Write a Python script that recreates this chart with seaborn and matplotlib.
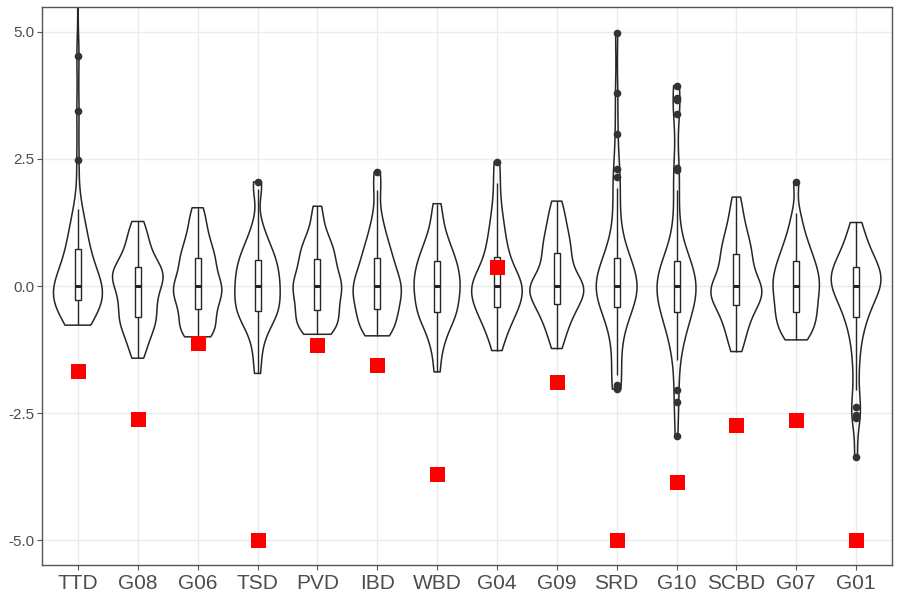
import matplotlib
matplotlib.use("Agg")
import matplotlib.pyplot as plt
import numpy as np
import pandas as pd
import seaborn as sns

groups = ["TTD", "G08", "G06", "TSD", "PVD", "IBD", "WBD",
          "G04", "G09", "SRD", "G10", "SCBD", "G07", "G01"]

ttd_vals = [-0.77, -0.72, -0.66, -0.61, -0.56, -0.51, -0.46, -0.42, -0.38, -0.34, -0.31,
            -0.28, -0.25, -0.22, -0.19, -0.16, -0.13, -0.10, -0.08, -0.05, -0.03, -0.01,
            0.00, 0.04, 0.09, 0.14, 0.20, 0.27, 0.34, 0.42, 0.50, 0.58, 0.65,
            0.72, 0.80, 0.90, 1.00, 1.12, 1.25, 1.38, 1.51, 2.47, 3.45, 4.53, 6.20]
g08_vals = [-1.42, -1.25, -1.10, -0.98, -0.88, -0.80, -0.72, -0.66, -0.60, -0.52, -0.44,
            -0.36, -0.29, -0.22, -0.15, -0.07, 0.00, 0.05, 0.10, 0.15, 0.20, 0.25,
            0.29, 0.33, 0.38, 0.45, 0.53, 0.62, 0.72, 0.84, 0.96, 1.10, 1.27]
g06_vals = [-1.00, -0.97, -0.92, -0.86, -0.78, -0.70, -0.62, -0.53, -0.45, -0.38, -0.31,
            -0.25, -0.19, -0.13, -0.08, -0.04, 0.00, 0.05, 0.11, 0.18, 0.26, 0.35,
            0.43, 0.50, 0.56, 0.63, 0.72, 0.82, 0.93, 1.05, 1.20, 1.38, 1.54]
tsd_vals = [-1.72, -1.35, -1.05, -0.88, -0.76, -0.66, -0.59, -0.54, -0.49, -0.43, -0.37,
            -0.31, -0.25, -0.18, -0.11, -0.05, 0.00, 0.06, 0.12, 0.18, 0.25, 0.32,
            0.38, 0.45, 0.51, 0.58, 0.66, 0.75, 0.86, 1.00, 1.22, 1.90, 2.05]
pvd_vals = [-0.95, -0.91, -0.86, -0.80, -0.73, -0.66, -0.59, -0.53, -0.47, -0.41, -0.34,
            -0.27, -0.21, -0.14, -0.08, -0.03, 0.00, 0.05, 0.11, 0.17, 0.24, 0.31,
            0.38, 0.46, 0.53, 0.61, 0.69, 0.77, 0.85, 0.95, 1.10, 1.32, 1.57]
ibd_vals = [-0.98, -0.94, -0.88, -0.81, -0.74, -0.66, -0.58, -0.51, -0.45, -0.39, -0.32,
            -0.26, -0.20, -0.14, -0.09, -0.04, 0.00, 0.05, 0.11, 0.17, 0.24, 0.31,
            0.39, 0.47, 0.55, 0.64, 0.74, 0.85, 0.98, 1.15, 1.40, 1.89, 2.24]
wbd_vals = [-1.69, -1.30, -1.08, -0.92, -0.80, -0.70, -0.62, -0.56, -0.51, -0.44, -0.37,
            -0.30, -0.23, -0.17, -0.11, -0.05, 0.00, 0.06, 0.12, 0.18, 0.24, 0.30,
            0.37, 0.43, 0.50, 0.57, 0.65, 0.74, 0.84, 0.96, 1.12, 1.35, 1.62]
g04_vals = [-1.27, -1.05, -0.90, -0.78, -0.68, -0.59, -0.52, -0.46, -0.41, -0.35, -0.29,
            -0.23, -0.17, -0.12, -0.07, -0.03, 0.00, 0.05, 0.10, 0.16, 0.22, 0.29,
            0.36, 0.47, 0.58, 0.70, 0.83, 0.98, 1.15, 1.35, 1.62, 2.03, 2.45]
g09_vals = [-1.23, -1.02, -0.88, -0.76, -0.65, -0.56, -0.48, -0.42, -0.36, -0.30, -0.24,
            -0.18, -0.13, -0.08, -0.04, -0.01, 0.00, 0.05, 0.11, 0.18, 0.26, 0.35,
            0.44, 0.54, 0.64, 0.73, 0.82, 0.92, 1.03, 1.16, 1.30, 1.47, 1.67]
srd_vals = [-2.03, -1.98, -1.94, -1.75, -1.45, -1.15, -0.95, -0.80, -0.67, -0.57, -0.49,
            -0.42, -0.36, -0.30, -0.25, -0.20, -0.16, -0.12, -0.09, -0.06, -0.04, -0.02,
            0.00, 0.03, 0.07, 0.11, 0.16, 0.21, 0.27, 0.33, 0.40, 0.47, 0.52,
            0.56, 0.66, 0.80, 0.98, 1.25, 1.60, 1.92, 2.14, 2.30, 3.00, 3.80, 4.97]
g10_vals = [-2.95, -2.28, -2.05, -1.46, -1.22, -1.05, -0.92, -0.80, -0.70, -0.62, -0.57,
            -0.52, -0.46, -0.40, -0.34, -0.28, -0.23, -0.18, -0.13, -0.09, -0.05, -0.02,
            0.00, 0.04, 0.08, 0.12, 0.17, 0.22, 0.27, 0.32, 0.37, 0.41, 0.45,
            0.49, 0.60, 0.78, 1.05, 1.45, 1.89, 2.28, 2.33, 3.38, 3.66, 3.70, 3.94]
scbd_vals = [-1.29, -1.10, -0.95, -0.82, -0.71, -0.61, -0.52, -0.44, -0.37, -0.31, -0.26,
             -0.21, -0.16, -0.11, -0.07, -0.03, 0.00, 0.06, 0.13, 0.20, 0.28, 0.37,
             0.46, 0.55, 0.63, 0.71, 0.80, 0.90, 1.01, 1.14, 1.30, 1.50, 1.75]
g07_vals = [-1.06, -1.00, -0.93, -0.85, -0.77, -0.69, -0.62, -0.56, -0.51, -0.44, -0.37,
            -0.30, -0.23, -0.16, -0.10, -0.05, 0.00, 0.06, 0.12, 0.18, 0.24, 0.30,
            0.36, 0.43, 0.50, 0.58, 0.67, 0.76, 0.87, 1.00, 1.18, 1.43, 2.05]
g01_vals = [-3.37, -2.60, -2.54, -2.38, -2.05, -1.65, -1.35, -1.12, -0.92, -0.78, -0.68,
            -0.60, -0.52, -0.44, -0.37, -0.30, -0.24, -0.18, -0.13, -0.08, -0.04, -0.02,
            0.00, 0.03, 0.06, 0.10, 0.13, 0.17, 0.21, 0.25, 0.29, 0.32, 0.35,
            0.38, 0.42, 0.47, 0.52, 0.58, 0.65, 0.73, 0.82, 0.92, 1.03, 1.14, 1.25]

# red squares, one per group
marker_vals = [-1.67, -2.62, -1.12, -5.00, -1.16, -1.56, -3.70,
               0.37, -1.89, -5.00, -3.86, -2.74, -2.64, -5.00]

all_vals = [ttd_vals, g08_vals, g06_vals, tsd_vals, pvd_vals, ibd_vals, wbd_vals,
            g04_vals, g09_vals, srd_vals, g10_vals, scbd_vals, g07_vals, g01_vals]

df = pd.concat(
    [pd.DataFrame({"group": g, "value": v}) for g, v in zip(groups, all_vals)],
    ignore_index=True,
)

sns.set_theme(style="whitegrid", rc={
    "axes.edgecolor": "#555555",
    "axes.linewidth": 1.0,
    "grid.color": "#EBEBEB",
    "grid.linewidth": 1.0,
    "xtick.bottom": True,
    "ytick.left": True,
    "xtick.color": "#555555",
    "ytick.color": "#555555",
    "xtick.major.size": 3.5,
    "ytick.major.size": 3.5,
    "xtick.major.width": 0.8,
    "ytick.major.width": 0.8,
})
plt.rcParams["font.family"] = ["Liberation Sans", "DejaVu Sans"]

fig = plt.figure(figsize=(9, 6), dpi=100)
ax = fig.add_axes([0.0467, 0.0583, 0.9444, 0.93])

sns.violinplot(data=df, x="group", y="value", order=groups, cut=0, inner=None,
               fill=False, color="#262626", linewidth=1.1, width=0.9,
               density_norm="area", bw_adjust=0.65, ax=ax)

sns.boxplot(data=df, x="group", y="value", order=groups, width=0.1,
            color="white", linecolor="#262626", linewidth=1.0, showcaps=False,
            medianprops=dict(linewidth=2.2, color="#262626"),
            flierprops=dict(marker="o", markerfacecolor="#333333",
                            markeredgecolor="#333333", markersize=4.5),
            ax=ax)

sns.stripplot(x=groups, y=marker_vals, order=groups, jitter=False, marker="s",
              size=10.8, color="red", linewidth=0, ax=ax, zorder=5)

ax.set_xlim(-0.6, len(groups) - 0.4)
ax.set_ylim(-5.49, 5.49)
ax.set_yticks([-5, -2.5, 0, 2.5, 5])
ax.set_yticklabels(["-5.0", "-2.5", "0.0", "2.5", "5.0"])
ax.set_xlabel("")
ax.set_ylabel("")
ax.grid(True, axis="both")
ax.tick_params(axis="x", labelsize=15, labelcolor="#4D4D4D", pad=3)
ax.tick_params(axis="y", labelsize=11, labelcolor="#4D4D4D", pad=2)
for side in ["top", "right", "bottom", "left"]:
    ax.spines[side].set_visible(True)
    ax.spines[side].set_color("#555555")

fig.savefig("out.png", dpi=100)
